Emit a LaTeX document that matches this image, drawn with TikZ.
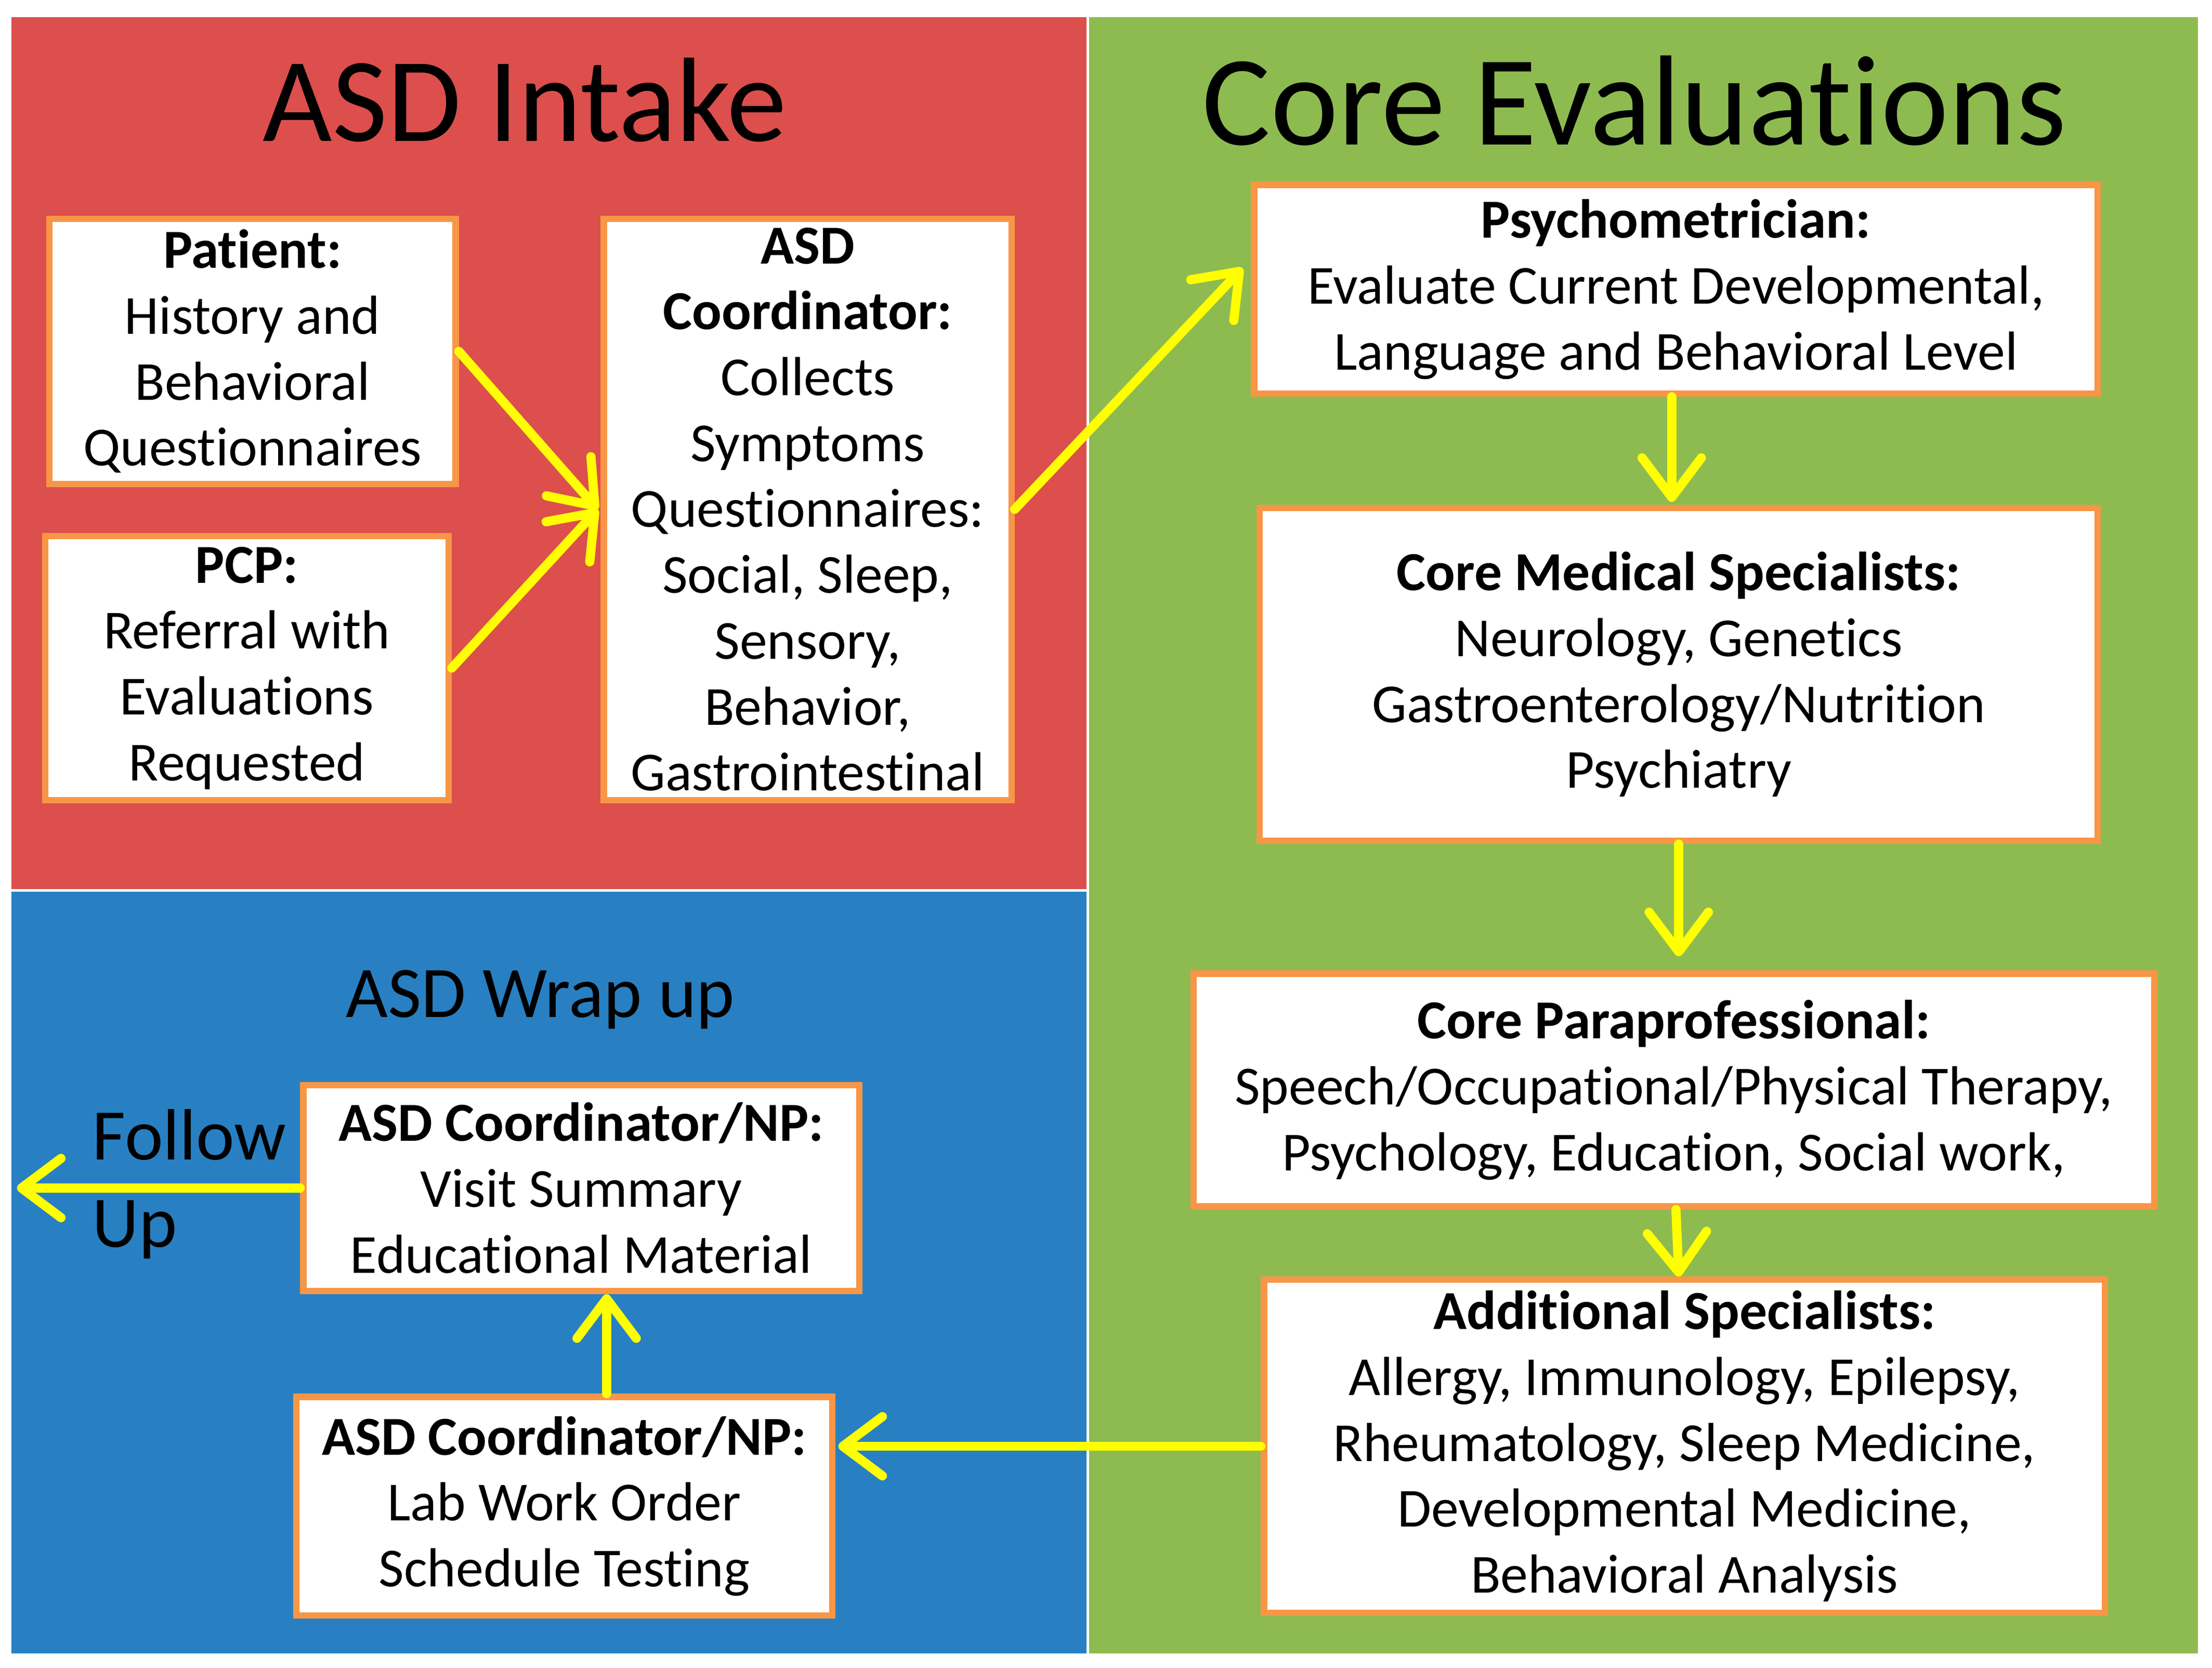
\documentclass[tikz,border=0pt]{standalone}
\usepackage{fontspec}
\setmainfont{Carlito}[Ligatures={NoCommon}]
\usetikzlibrary{arrows.meta,calc}
\definecolor{panelred}{HTML}{DC4F4D}
\definecolor{panelgreen}{HTML}{8EBB50}
\definecolor{panelblue}{HTML}{2880C2}
\definecolor{boxorange}{HTML}{F79646}
\definecolor{arrowyellow}{HTML}{FFFF00}
\begin{document}
\begin{tikzpicture}[x=1pt,y=-1pt,
  box/.style={draw=boxorange, line width=4.5pt, fill=white, inner sep=0pt, align=center,
    font=\fontsize{39}{46.7}\selectfont},
  arr/.style={draw=arrowyellow, line width=6.5pt, line cap=round,
    -{Straight Barb[length=28pt,width=42pt,round]}},
  bigtitle/.style={anchor=base, font=\fontsize{85}{100}\selectfont},
  midtitle/.style={anchor=base, font=\fontsize{51.5}{62}\selectfont}
]
\useasboundingbox (0,0) rectangle (1568,1182);
\fill[white] (0,0) rectangle (1568,1182);
\fill[panelred] (8,12) rectangle (770,630);
\fill[panelblue] (8,632) rectangle (770,1172);
\fill[panelgreen] (772,12) rectangle (1558,1172);

\node[bigtitle] (tintake) at (372,100) {ASD Intake};
\node[bigtitle, font=\fontsize{91}{106}\selectfont] (tcore) at (1158.5,102.5) {Core Evaluations};
\node[midtitle] (twrap) at (383,721) {ASD Wrap up};
\node[midtitle, anchor=base west] (tfollow) at (62,822) {Follow};
\node[midtitle, anchor=base west] (tup) at (62,884) {Up};

\node[box, minimum width=288pt, minimum height=188pt] (patient) at (179,249)
  {\textbf{Patient:}\\History and\\Behavioral\\Questionnaires};
\node[box, minimum width=286pt, minimum height=187pt] (pcp) at (175,473.5)
  {\textbf{PCP:}\\Referral with\\Evaluations\\Requested};
\node[box, minimum width=289pt, minimum height=412pt] (coord) at (572.5,361)
  {\textbf{ASD}\\\textbf{Coordinator:}\\Collects\\Symptoms\\Questionnaires:\\Social, Sleep,\\Sensory,\\Behavior,\\Gastrointestinal};
\node[box, minimum width=598pt, minimum height=148pt] (psych) at (1188,205)
  {\textbf{Psychometrician:}\\Evaluate Current Developmental,\\Language and Behavioral Level};
\node[box, minimum width=594pt, minimum height=236pt] (medical) at (1190,478)
  {\textbf{Core Medical Specialists:}\\Neurology, Genetics\\Gastroenterology/Nutrition\\Psychiatry};
\node[box, minimum width=681pt, minimum height=165pt] (para) at (1186.5,772.5)
  {\textbf{Core Paraprofessional:}\\Speech/Occupational/Physical Therapy,\\Psychology, Education, Social work,};
\node[box, minimum width=596pt, minimum height=236pt] (additional) at (1194,1025)
  {\textbf{Additional Specialists:}\\Allergy, Immunology, Epilepsy,\\Rheumatology, Sleep Medicine,\\Developmental Medicine,\\Behavioral Analysis};
\node[box, minimum width=394pt, minimum height=146pt] (topnp) at (412,842)
  {\textbf{ASD Coordinator/NP:}\\Visit Summary\\Educational Material};
\node[box, minimum width=380pt, minimum height=155pt] (botnp) at (400,1067.5)
  {\textbf{ASD Coordinator/NP:}\\Lab Work Order\\Schedule Testing};

\coordinate (fu) at (12,842);
\coordinate (upstart) at ([xshift=30pt]botnp.north);
\coordinate (medout) at (medical.south);

\draw[arr] (patient.east) -- ([xshift=-2pt]coord.west);
\draw[arr] (pcp.east) -- ([xshift=-2pt]coord.west);
\draw[arr] (coord.east) -- ([xshift=-6pt,yshift=15pt]psych.west);
\draw[arr] ([xshift=-3pt]psych.south) -- ([xshift=-3pt,yshift=2pt]psych.south |- medical.north);
\draw[arr] (medout) -- ([yshift=10pt]medout |- para.north);
\draw[arr] ([xshift=1.5pt]para.south) -- ([xshift=-4pt]additional.north);
\draw[arr] (additional.west) -- ([xshift=2pt]additional.west -| botnp.east);
\draw[arr] (upstart) -- (upstart |- topnp.south);
\draw[arr] (topnp.west) -- (fu);
\end{tikzpicture}
\end{document}
